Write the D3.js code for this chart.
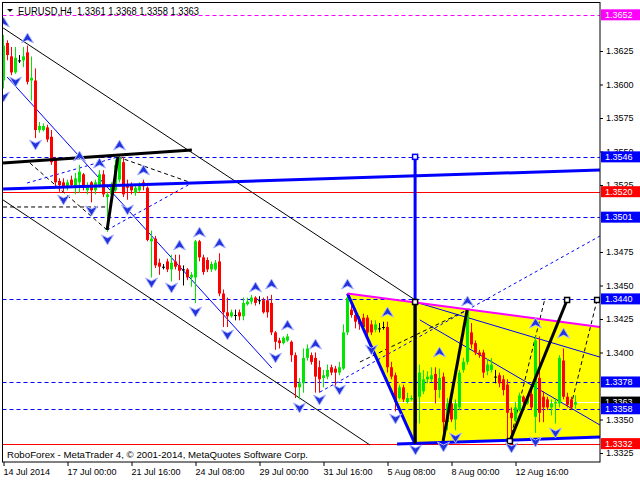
<!DOCTYPE html>
<html><head><meta charset="utf-8">
<script src="https://cdn.jsdelivr.net/npm/d3@7"></script>
<style>
body{margin:0;background:#fff}
svg{display:block}
text{font-family:"Liberation Sans",Arial,sans-serif}
</style>
</head><body>
<svg id="c" width="640" height="480"></svg>
<script>
// ---------------- DATA ----------------
const headerSymbol = "EURUSD,H4";
const headerOHLC = [1.3361, 1.3368, 1.3358, 1.3363];
const copyright = "RoboForex - MetaTrader 4, © 2001-2014, MetaQuotes Software Corp.";

const openP = [1.3603,1.3631,1.3621,1.3609,1.3618,1.3618,1.3624,1.3603,1.3603,1.3566,
1.3566,1.3568,1.3561,1.3544,1.3528,1.3527,1.3524,1.3529,1.3524,1.3527,
1.3533,1.3521,1.3527,1.3521,1.3525,1.3533,1.3516,1.3518,1.3521,1.3529,
1.3542,1.3525,1.3525,1.3519,1.3521,1.3527,1.3523,1.3483,1.3485,1.3467,
1.3464,1.3468,1.3462,1.3468,1.3465,1.3462,1.3462,1.3456,1.3456,1.3483,
1.3471,1.3469,1.3462,1.3462,1.3468,1.3444,1.3430,1.3427,1.3428,1.3430,
1.3427,1.3436,1.3438,1.3441,1.3439,1.3439,1.3439,1.3437,1.3415,1.3409,
1.3407,1.3409,1.3408,1.3398,1.3374,1.3377,1.3396,1.3398,1.3396,1.3389,
1.3381,1.3382,1.3389,1.3388,1.3385,1.3388,1.3415,1.3432,1.3428,1.3424,
1.3426,1.3426,1.3421,1.3417,1.3418,1.3419,1.3419,1.3389,1.3383,1.3366,
1.3374,1.3363,1.3365,1.3365,1.3367,1.3371,1.3380,1.3380,1.3384,1.3372,
1.3382,1.3348,1.3362,1.3350,1.3359,1.3387,1.3393,1.3415,1.3407,1.3400,
1.3400,1.3386,1.3387,1.3382,1.3383,1.3380,1.3376,1.3355,1.3350,1.3357,
1.3367,1.3362,1.3369,1.3352,1.3381,1.3367,1.3365,1.3359,1.3362,1.3362,
1.3394,1.3367,1.3365,1.3361];
const highP = [1.3637,1.3633,1.3628,1.3628,1.3622,1.3628,1.3629,1.3621,1.3612,1.3572,
1.3571,1.3570,1.3566,1.3546,1.3530,1.3530,1.3529,1.3532,1.3534,1.3540,
1.3534,1.3527,1.3528,1.3529,1.3536,1.3536,1.3520,1.3527,1.3544,1.3547,
1.3546,1.3529,1.3527,1.3525,1.3527,1.3529,1.3524,1.3491,1.3487,1.3470,
1.3466,1.3470,1.3473,1.3473,1.3473,1.3465,1.3463,1.3460,1.3484,1.3484,
1.3473,1.3471,1.3468,1.3469,1.3474,1.3447,1.3441,1.3432,1.3432,1.3432,
1.3441,1.3441,1.3443,1.3442,1.3442,1.3441,1.3442,1.3443,1.3416,1.3411,
1.3412,1.3414,1.3409,1.3400,1.3381,1.3403,1.3406,1.3400,1.3400,1.3394,
1.3387,1.3391,1.3391,1.3390,1.3393,1.3421,1.3444,1.3435,1.3430,1.3427,
1.3429,1.3428,1.3424,1.3424,1.3422,1.3423,1.3423,1.3393,1.3385,1.3376,
1.3376,1.3370,1.3368,1.3367,1.3391,1.3387,1.3386,1.3389,1.3389,1.3388,
1.3385,1.3366,1.3365,1.3365,1.3387,1.3396,1.3433,1.3422,1.3409,1.3402,
1.3402,1.3395,1.3396,1.3387,1.3385,1.3383,1.3380,1.3359,1.3363,1.3370,
1.3368,1.3368,1.3372,1.3412,1.3412,1.3371,1.3367,1.3365,1.3366,1.3398,
1.3403,1.3370,1.3367,1.3368];
const lowP = [1.3597,1.3618,1.3607,1.3608,1.3616,1.3613,1.3600,1.3588,1.3560,1.3564,
1.3565,1.3557,1.3540,1.3524,1.3520,1.3520,1.3521,1.3523,1.3518,1.3519,
1.3521,1.3518,1.3512,1.3518,1.3523,1.3516,1.3490,1.3515,1.3520,1.3527,
1.3516,1.3514,1.3518,1.3517,1.3520,1.3521,1.3483,1.3456,1.3463,1.3458,
1.3462,1.3460,1.3453,1.3462,1.3454,1.3450,1.3454,1.3449,1.3437,1.3468,
1.3458,1.3460,1.3460,1.3461,1.3442,1.3419,1.3419,1.3426,1.3424,1.3424,
1.3424,1.3435,1.3436,1.3435,1.3436,1.3429,1.3426,1.3413,1.3402,1.3403,
1.3406,1.3408,1.3393,1.3366,1.3365,1.3370,1.3394,1.3391,1.3370,1.3370,
1.3374,1.3380,1.3383,1.3374,1.3383,1.3387,1.3413,1.3426,1.3418,1.3417,
1.3417,1.3411,1.3413,1.3415,1.3415,1.3417,1.3385,1.3380,1.3356,1.3365,
1.3363,1.3362,1.3364,1.3333,1.3347,1.3369,1.3377,1.3378,1.3362,1.3366,
1.3335,1.3342,1.3348,1.3342,1.3357,1.3385,1.3391,1.3403,1.3398,1.3396,
1.3381,1.3383,1.3385,1.3377,1.3374,1.3368,1.3335,1.3337,1.3348,1.3356,
1.3360,1.3361,1.3357,1.3340,1.3348,1.3348,1.3357,1.3353,1.3347,1.3359,
1.3365,1.3359,1.3357,1.3358];
const closeP = [1.3629,1.3622,1.3609,1.3620,1.3618,1.3621,1.3602,1.3605,1.3566,1.3569,
1.3569,1.3559,1.3542,1.3527,1.3525,1.3524,1.3527,1.3525,1.3530,1.3535,
1.3524,1.3525,1.3521,1.3527,1.3533,1.3518,1.3518,1.3524,1.3540,1.3545,
1.3518,1.3523,1.3521,1.3523,1.3524,1.3524,1.3484,1.3485,1.3465,1.3464,
1.3464,1.3462,1.3467,1.3464,1.3461,1.3462,1.3456,1.3458,1.3483,1.3471,
1.3460,1.3462,1.3466,1.3467,1.3444,1.3430,1.3427,1.3430,1.3428,1.3427,
1.3437,1.3438,1.3441,1.3437,1.3439,1.3430,1.3430,1.3415,1.3408,1.3407,
1.3411,1.3412,1.3398,1.3374,1.3377,1.3396,1.3403,1.3393,1.3382,1.3380,
1.3383,1.3387,1.3385,1.3385,1.3389,1.3415,1.3441,1.3428,1.3423,1.3421,
1.3419,1.3415,1.3415,1.3421,1.3418,1.3419,1.3389,1.3382,1.3363,1.3374,
1.3365,1.3366,1.3366,1.3347,1.3385,1.3380,1.3382,1.3383,1.3372,1.3381,
1.3348,1.3362,1.3350,1.3362,1.3385,1.3393,1.3432,1.3406,1.3400,1.3398,
1.3385,1.3391,1.3391,1.3382,1.3377,1.3372,1.3355,1.3351,1.3359,1.3368,
1.3363,1.3367,1.3359,1.3409,1.3355,1.3359,1.3359,1.3362,1.3363,1.3396,
1.3367,1.3361,1.3359,1.3363];

const timeTickIdx = [0,16,32,48,64,80,96,112,128];
const timeLabels = ["14 Jul 2014","17 Jul 00:00","21 Jul 16:00","24 Jul 08:00","29 Jul 00:00","31 Jul 16:00","5 Aug 08:00","8 Aug 00:00","12 Aug 16:00"];
// grid ticks whose labels are not covered by the level boxes
const priceTicks = [1.3325,1.3350,1.3400,1.3425,1.3450,1.3475,1.3525,1.3550,1.3575,1.3600,1.3625];

// horizontal levels
const dashLevels = [1.3652,1.3546,1.3501,1.3440,1.3378,1.3358];
const solidLevels = [1.3520,1.3332];
const bidPrice = 1.3363;
const labelPrices = [1.3652,1.3546,1.3520,1.3501,1.3440,1.3378,1.3363,1.3358,1.3332];

// fractal arrows [bar index], [price]
const upArrowIdx = [0,6,19,24,29,35,44,49,54,63,67,71,78,86,96,109,116,133,140];
const upArrowPrice = [1.36466,1.36347,1.35466,1.35414,1.35548,1.35362,1.34802,1.34899,1.34817,1.34489,1.34511,1.34205,1.34063,1.34511,1.34302,1.34004,1.34384,1.34220,1.34145];
const downArrowIdx = [0,3,8,15,22,26,31,37,42,48,56,68,74,79,84,92,98,103,110,113,127,133,138];
const downArrowPrice = [1.35907,1.36019,1.35548,1.35138,1.35056,1.34840,1.35063,1.34519,1.34481,1.34302,1.34131,1.33959,1.33586,1.33645,1.33720,1.34019,1.33504,1.33272,1.33295,1.33362,1.33287,1.33332,1.33399];

// drawn objects: [[barIdx, price],[barIdx, price]]
const thinBlackLines = [[[-0.1,1.36422],[102.9,1.34392]],[[-0.1,1.35138],[91.6,1.33310]]];
const thinBlueLines = [[[0.9,1.36056],[67.1,1.33884]],[[102.9,1.34377],[149.1,1.33966]],[[104.1,1.34243],[149.1,1.33459]]];
const thickBlueLines = [[[-0.1,1.35220],[149.1,1.35362]],[[86,1.3444],[102.9,1.33317]],[[98.4,1.33317],[149.1,1.33369]],[[102.9,1.3546],[102.9,1.3332]]];
const thickBlackLines = [[[-0.1,1.35414],[47.1,1.35511]],[[25.9,1.34914],[28.6,1.35459]],[[109.9,1.33339],[115.9,1.34317]],[[126.6,1.33339],[140.9,1.34392]],[[102.9,1.34377],[102.9,1.3332]]];
const magentaLines = [[[86,1.3444],[149.1,1.34190]]];
const dashedBlackLines = [[[6.6,1.35414],[25.9,1.34914]],[[28.6,1.35459],[47.1,1.35265]],[[-0.1,1.35086],[25.9,1.35086]],[[89.1,1.33929],[115.9,1.34317]],[[126.6,1.33339],[135.4,1.34407]],[[148.4,1.34392],[141.6,1.33571]]];
const dashedBlueLines = [[[25.9,1.34914],[47.1,1.35265]],[[5.9,1.35265],[28.6,1.35459]],[[79.1,1.33705],[149.1,1.34869]]];
const trianglePoly = [[86,1.3444],[149.1,1.34190],[149.1,1.33369],[102.9,1.33317]];
const squareMarks = [[102.9,1.3546],[102.9,1.34377],[126.6,1.33339],[140.9,1.34392],[148.4,1.34392]];

// ---------------- DRAW ----------------
const svg = d3.select("#c");
const PL = 2.5, PT = 2.5, PR = 600, PB = 462;
const x = d3.scaleLinear().domain([0,149]).range([3.5,599.5]);
const y = d3.scaleLinear().domain([1.3325,1.3625]).range([453,51]);
const GREEN = "#00e600", RED = "#ff0000", BLUE = "#0000ff", MAG = "#ff00ff";

svg.append("rect").attr("width",640).attr("height",480).attr("fill","#fff");
svg.append("defs").append("clipPath").attr("id","clip")
  .append("rect").attr("x",PL+0.5).attr("y",PT+0.5).attr("width",PR-PL-0.5).attr("height",PB-PT-0.5);
const g = svg.append("g").attr("clip-path","url(#clip)");

const line = d3.line().x(d=>x(d[0])).y(d=>y(d[1]));

// yellow triangle
g.append("path").attr("d", line(trianglePoly)+"Z").attr("fill","#ffff00");

// horizontal levels
g.selectAll(".dl").data(dashLevels).join("line")
  .attr("x1",PL).attr("x2",PR).attr("y1",d=>Math.round(y(d))+0.5).attr("y2",d=>Math.round(y(d))+0.5)
  .attr("stroke",(d,i)=> i===0?MAG:BLUE).attr("stroke-width",1).attr("stroke-dasharray","4,3");
g.selectAll(".sl").data(solidLevels).join("line")
  .attr("x1",PL).attr("x2",PR).attr("y1",d=>Math.round(y(d))+0.5).attr("y2",d=>Math.round(y(d))+0.5)
  .attr("stroke",RED).attr("stroke-width",1);
g.append("line").attr("x1",PL).attr("x2",PR)
  .attr("y1",Math.round(y(bidPrice))+0.5).attr("y2",Math.round(y(bidPrice))+0.5)
  .attr("stroke","#fff").attr("stroke-width",1);

// trend lines
function drawLines(data, color, width, dash){
  g.append("g").selectAll("path").data(data).join("path")
    .attr("d",line).attr("fill","none").attr("stroke",color).attr("stroke-width",width)
    .attr("stroke-dasharray",dash||null);
}
drawLines(thinBlackLines,"#000",1);
drawLines(thinBlueLines,BLUE,1);
drawLines(dashedBlackLines,"#000",1,"4,3");
drawLines(dashedBlueLines,BLUE,1,"3,3");

// candles
const idx = d3.range(openP.length);
const col = i => closeP[i]>openP[i]?GREEN:(closeP[i]<openP[i]?RED:"#000");
const cg = g.append("g");
cg.selectAll("line").data(idx).join("line")
  .attr("x1",i=>x(i)).attr("x2",i=>x(i))
  .attr("y1",i=>y(highP[i])).attr("y2",i=>y(lowP[i]))
  .attr("stroke",col).attr("stroke-width",1);
cg.selectAll("rect").data(idx).join("rect")
  .attr("x",i=>x(i)-1.5).attr("width",3)
  .attr("y",i=>Math.min(y(openP[i]),y(closeP[i])))
  .attr("height",i=>Math.max(1,Math.abs(y(openP[i])-y(closeP[i]))))
  .attr("fill",col);

drawLines(thickBlueLines,BLUE,3);
drawLines(magentaLines,MAG,2);
drawLines(thickBlackLines,"#000",3);

g.selectAll(".sq").data(squareMarks).join("rect")
  .attr("x",d=>x(d[0])-2.5).attr("y",d=>y(d[1])-2.5).attr("width",5).attr("height",5)
  .attr("fill","#fff").attr("stroke",(d,i)=>i===0?BLUE:"#000").attr("stroke-width",1.5);

// arrows
const upPath = "M0,-5L6,5L0,2L-6,5Z", dnPath = "M0,5L6,-5L0,-2L-6,-5Z";
g.selectAll(".ua").data(upArrowIdx).join("path")
  .attr("transform",(d,i)=>`translate(${x(d)},${y(upArrowPrice[i])})`)
  .attr("d",upPath).attr("fill","#2233dd").attr("stroke","#aab4ff").attr("stroke-width",1);
g.selectAll(".da").data(downArrowIdx).join("path")
  .attr("transform",(d,i)=>`translate(${x(d)},${y(downArrowPrice[i])})`)
  .attr("d",dnPath).attr("fill","#2233dd").attr("stroke","#aab4ff").attr("stroke-width",1);

// frame
svg.append("rect").attr("x",PL).attr("y",PT).attr("width",PR-PL).attr("height",PB-PT)
  .attr("fill","none").attr("stroke","#000").attr("stroke-width",1);

// price axis
const ya = svg.append("g").attr("transform",`translate(${PR},0)`)
  .call(d3.axisRight(y).tickValues(priceTicks).tickFormat(d3.format(".4f")).tickSize(3).tickPadding(3));
ya.select(".domain").remove();
ya.selectAll("text").attr("font-size",9).attr("font-family","Liberation Sans").attr("fill","#000");
ya.selectAll("line").attr("stroke","#000");

// time axis
const xa = svg.append("g").attr("transform",`translate(0,${PB})`)
  .call(d3.axisBottom(x).tickValues(timeTickIdx).tickFormat((d,i)=>timeLabels[i]).tickSize(4).tickPadding(3));
xa.select(".domain").remove();
xa.selectAll("text").attr("font-size",9).attr("font-family","Liberation Sans").attr("text-anchor","start").attr("dx",-0.5).attr("fill","#000");
xa.selectAll("line").attr("stroke","#000");

// price labels
const labColor = p => p===1.3652?MAG:(p===1.3520||p===1.3332)?RED:(p===bidPrice?"#000":BLUE);
const lg = svg.append("g");
labelPrices.forEach(p=>{
  const cy = y(p);
  lg.append("rect").attr("x",601).attr("y",cy-5.5).attr("width",39).attr("height",11).attr("fill",labColor(p));
  lg.append("text").attr("x",605).attr("y",cy+3.3).attr("font-size",9).attr("fill","#fff").text(d3.format(".4f")(p));
});

// header
svg.append("path").attr("d","M7,9L13,9L10,12Z").attr("fill","#000");
svg.append("text").attr("x",18).attr("y",14.5).attr("font-size",10).style("white-space","pre")
  .attr("textLength",181).attr("lengthAdjust","spacingAndGlyphs")
  .text(headerSymbol+"  "+headerOHLC.map(v=>d3.format(".4f")(v)).join(" "));
// copyright
svg.append("text").attr("x",7).attr("y",458).attr("font-size",9.5)
  .attr("textLength",301).attr("lengthAdjust","spacingAndGlyphs").text(copyright);
</script>
</body></html>
